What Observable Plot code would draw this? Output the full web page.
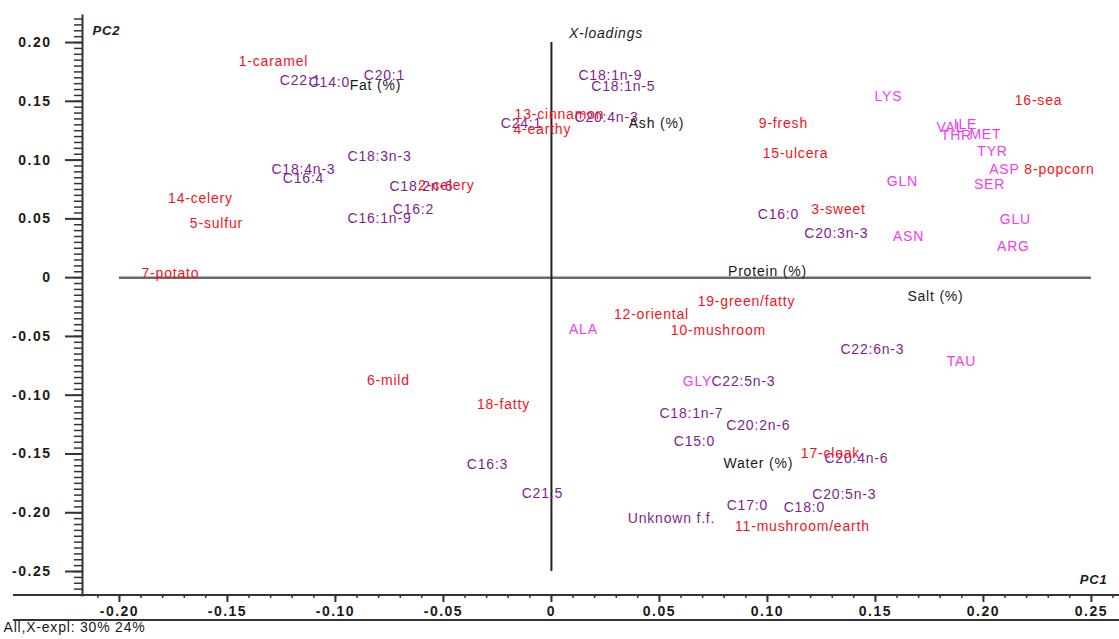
<!DOCTYPE html>
<html><head><meta charset="utf-8">
<script src="https://cdn.jsdelivr.net/npm/d3@7"></script>
<script src="https://cdn.jsdelivr.net/npm/@observablehq/plot@0.6"></script>
<style>
body{margin:0;background:#fff;}
#chart svg{display:block;}
#chart g[aria-label="text"] text{letter-spacing:0.8px;}
#chart g[aria-label$="tick label"] text{letter-spacing:1.5px;}
</style>
</head><body><div id="chart"></div>
<script>
// Sensory attributes (red)
const sampleLabels = ["1-caramel","2-celery","3-sweet","4-earthy","5-sulfur","6-mild","7-potato","8-popcorn","9-fresh","10-mushroom","11-mushroom/earth","12-oriental","13-cinnamon","14-celery","15-ulcera","16-sea","17-cloak","18-fatty","19-green/fatty"];
const samplePC1 = [-0.1287,-0.0486,0.1329,-0.0042,-0.1551,-0.0755,-0.1764,0.2352,0.1074,0.0773,0.1162,0.0463,0.0037,-0.1625,0.1130,0.2255,0.1292,-0.0222,0.0903];
const samplePC2 = [0.1837,0.0783,0.0578,0.1259,0.0459,-0.0876,0.0034,0.0919,0.1310,-0.0451,-0.2118,-0.0315,0.1387,0.0672,0.1055,0.1506,-0.1497,-0.1080,-0.0204];

// Fatty acids (purple)
const fattyLabels = ["C14:0","C15:0","C16:0","C16:1n-9","C16:2","C16:3","C16:4","C17:0","C18:0","C18:1n-9","C18:1n-7","C18:1n-5","C18:2n-6","C18:3n-3","C18:4n-3","C20:1","C20:2n-6","C20:3n-3","C20:4n-6","C20:4n-3","C20:5n-3","C21:5","C22:1","C22:5n-3","C22:6n-3","C24:1","Unknown f.f."];
const fattyPC1 = [-0.1028,0.0662,0.1051,-0.0796,-0.0639,-0.0296,-0.1148,0.0907,0.1171,0.0273,0.0648,0.0333,-0.0602,-0.0796,-0.1148,-0.0773,0.0958,0.1319,0.1412,0.0255,0.1356,-0.0042,-0.1162,0.0889,0.1486,-0.0139,0.0556];
const fattyPC2 = [0.1659,-0.1395,0.0536,0.0502,0.0578,-0.1591,0.0842,-0.1939,-0.1956,0.1718,-0.1157,0.1625,0.0774,0.1029,0.0919,0.1718,-0.1259,0.0374,-0.1540,0.1361,-0.1846,-0.1837,0.1676,-0.0885,-0.0612,0.1310,-0.2050];

// Amino acids (magenta)
const aminoLabels = ["ALA","ARG","ASN","ASP","GLN","GLU","GLY","ILE","LYS","MET","SER","TAU","THR","TYR","VAL"];
const aminoPC1 = [0.0148,0.2139,0.1653,0.2097,0.1625,0.2148,0.0676,0.1917,0.1560,0.2009,0.2028,0.1898,0.1875,0.2042,0.1847];
const aminoPC2 = [-0.0442,0.0264,0.0349,0.0919,0.0817,0.0493,-0.0885,0.1301,0.1540,0.1216,0.0791,-0.0715,0.1208,0.1072,0.1276];

// Chemical composition (black)
const chemLabels = ["Fat (%)","Ash (%)","Protein (%)","Salt (%)","Water (%)"];
const chemPC1 = [-0.0815,0.0486,0.1000,0.1778,0.0958];
const chemPC2 = [0.1633,0.1310,0.0051,-0.0162,-0.1582];

const xTicks = [-0.20,-0.15,-0.10,-0.05,0,0.05,0.10,0.15,0.20,0.25];
const yTicks = [0.20,0.15,0.10,0.05,0,-0.05,-0.10,-0.15,-0.20,-0.25];
const xMinor = d3.range(-21, 27).map(i => i / 100);
const yMinor = d3.range(-53, 45).map(i => i * 0.005);

const groupColors = {sample:"#f2141c", fatty:"#7e1e90", amino:"#ef3cef", chem:"#1a1a1a"};

function build(labels, xs, ys, group) {
  return labels.map((label, i) => ({label, pc1: xs[i], pc2: ys[i], group}));
}
const rows = [
  ...build(fattyLabels, fattyPC1, fattyPC2, "fatty"),
  ...build(aminoLabels, aminoPC1, aminoPC2, "amino"),
  ...build(chemLabels, chemPC1, chemPC2, "chem"),
  ...build(sampleLabels, samplePC1, samplePC2, "sample")
];

const fmt = d => (Math.abs(d) < 1e-9 ? "0" : d.toFixed(2));

const W = 1119, H = 639, ML = 82, MB = 44;
const plot = Plot.plot({
  width: W, height: H,
  marginLeft: ML, marginRight: 0, marginTop: 15, marginBottom: MB,
  x: {domain: [-0.2171, 0.263], label: null},
  y: {domain: [-0.2704, 0.223], label: null},
  style: {fontFamily: "'Liberation Sans', Arial, sans-serif", background: "#fff", color: "#1a1a1a"},
  marks: [
    Plot.axisY(yMinor, {tickSize: 8, tickFormat: () => "", stroke: "#333", strokeWidth: 1.5, label: null}),
    Plot.axisY(yTicks, {tickSize: 17, tickPadding: 14, tickFormat: fmt, fontSize: 14, fontWeight: "bold", stroke: "#333", strokeWidth: 2, fill: "#1a1a1a", label: null}),
    Plot.axisX(xMinor, {tickSize: 3, tickFormat: () => "", stroke: "#333", strokeWidth: 1.5, label: null}),
    Plot.axisX(xTicks, {tickSize: 7, tickPadding: 4, tickFormat: fmt, fontSize: 14, fontWeight: "bold", stroke: "#333", strokeWidth: 2, fill: "#1a1a1a", label: null}),
    Plot.frame({anchor: "left", stroke: "#333", strokeWidth: 2}),
    Plot.ruleY([0], {x1: -0.2, x2: 0.25, stroke: "#6a6a6a", strokeWidth: 2.5}),
    Plot.ruleX([0], {y1: -0.25, y2: 0.2, stroke: "#222", strokeWidth: 2}),
    Plot.text(rows, {x: "pc1", y: "pc2", text: "label", fill: d => groupColors[d.group], fontSize: 14}),
    Plot.text(["PC2"], {frameAnchor: "top-left", dx: 10, dy: 10, textAnchor: "start", fontStyle: "italic", fontWeight: "bold", fontSize: 13, fill: "#1a1a1a"}),
    Plot.text(["X-loadings"], {frameAnchor: "top", dx: 5, dy: 13, fontStyle: "italic", fontSize: 14, fill: "#1a1a1a"}),
    Plot.text(["PC1"], {frameAnchor: "bottom-right", dx: -12, dy: -12, textAnchor: "end", fontStyle: "italic", fontWeight: "bold", fontSize: 13, fill: "#1a1a1a"}),
    Plot.text(["All,X-expl: 30% 24%"], {frameAnchor: "bottom-left", dx: 3 - ML, dy: 36, textAnchor: "start", fontSize: 14, fill: "#1a1a1a"})
  ]
});

// full-width baseline and lower border of the graphic
const svg = d3.select(plot);
const yb = H - MB;
svg.append("line").attr("x1", 13).attr("x2", W).attr("y1", yb).attr("y2", yb).attr("stroke", "#333").attr("stroke-width", 2);
svg.append("line").attr("x1", 13).attr("x2", W).attr("y1", yb + 25).attr("y2", yb + 25).attr("stroke", "#333").attr("stroke-width", 2);

document.getElementById("chart").append(plot);
</script>
</body></html>
